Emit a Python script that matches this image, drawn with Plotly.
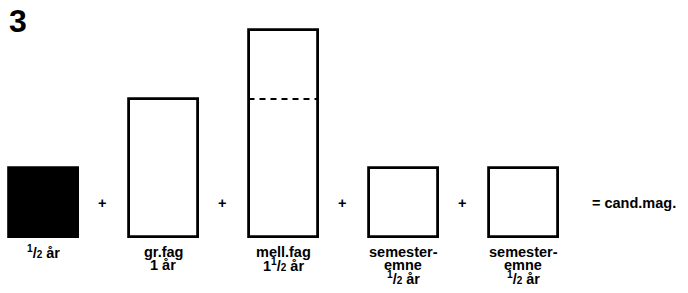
import plotly.graph_objects as go

# ---- data ----
positions = [0, 1, 2, 3, 4]
durations_years = [0.5, 1.0, 1.5, 0.5, 0.5]
fill_colors = ["black", "white", "white", "white", "white"]
HALF = "<sup>1</sup>/<span style='font-size:10px'>2</span>"
label_lines = [
    [HALF + " år"],
    ["gr.fag", "1 år"],
    ["mell.fag", "1" + HALF + " år"],
    ["semester-", "emne", HALF + " år"],
    ["semester-", "emne", HALF + " år"],
]
divider_year = 1.0          # dashed line inside mell.fag
divider_bar = 2
operators = ["+", "+", "+", "+"]
result_text = "= cand.mag."
figure_number = "3"

# ---- layout constants ----
W, H = 688, 293
BAR_W = 0.575
FONT = "Liberation Sans"
FS = 14.5
px_per_year = 138.0
base_px = 237.0
x_left_px = 43.0
px_per_unit = 120.0


def y_of(py):
    return (base_px - py) / px_per_year


fig = go.Figure()
fig.add_trace(go.Bar(
    x=positions, y=durations_years, width=BAR_W,
    marker=dict(color=fill_colors, line=dict(color="black", width=2.8)),
    hoverinfo="skip", showlegend=False,
))

annotations = []
# labels under bars
for i, lines in enumerate(label_lines):
    for j, t in enumerate(lines):
        annotations.append(dict(
            x=positions[i], y=y_of(252 + 13 * j), xref="x", yref="y",
            text=t, showarrow=False, xanchor="center", yanchor="middle",
            font=dict(family=FONT, size=FS, color="black", weight="bold"),
        ))
# plus signs between bars
for i, op in enumerate(operators):
    annotations.append(dict(
        x=(positions[i] + positions[i + 1]) / 2 - 0.01, y=y_of(203), xref="x", yref="y",
        text=op, showarrow=False, xanchor="center", yanchor="middle",
        font=dict(family=FONT, size=FS, color="black", weight="bold"),
    ))
# result
annotations.append(dict(
    x=positions[-1] + 0.56, y=y_of(203), xref="x", yref="y",
    text=result_text, showarrow=False, xanchor="left", yanchor="middle",
    font=dict(family=FONT, size=FS, color="black", weight="bold"),
))
# figure number
annotations.append(dict(
    x=7 / W, y=1 - 21 / H, xref="paper", yref="paper",
    text=figure_number, showarrow=False, xanchor="left", yanchor="middle",
    font=dict(family=FONT, size=32, color="black", weight="bold"),
))

shapes = [dict(
    type="line", xref="x", yref="y",
    x0=positions[divider_bar] - BAR_W / 2, x1=positions[divider_bar] + BAR_W / 2,
    y0=divider_year, y1=divider_year,
    line=dict(color="black", width=1.8, dash="6px,5px"),
)]

fig.update_layout(
    width=W, height=H,
    margin=dict(l=0, r=0, t=0, b=0),
    paper_bgcolor="white", plot_bgcolor="white",
    xaxis=dict(range=[-x_left_px / px_per_unit, (W - x_left_px) / px_per_unit],
               visible=False, fixedrange=True),
    yaxis=dict(range=[y_of(H), y_of(0)], visible=False, fixedrange=True),
    annotations=annotations, shapes=shapes,
    bargap=0,
)
fig.write_html(
    "out.html",
    config={"displayModeBar": False},
    post_script="document.body.style.margin='0px';document.body.style.overflow='hidden';",
)
